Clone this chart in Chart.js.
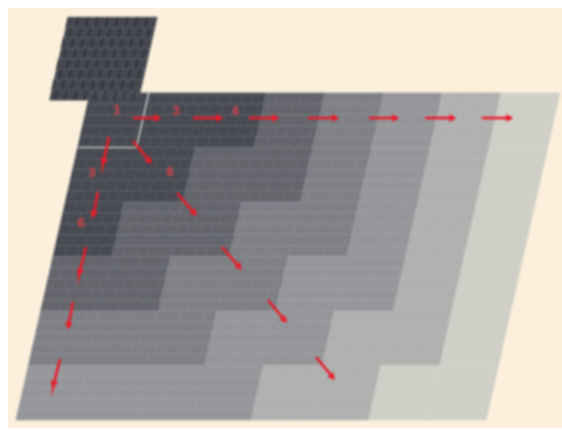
<!DOCTYPE html>
<html>
<head>
<meta charset="utf-8">
<script src="https://cdn.jsdelivr.net/npm/chart.js@4/dist/chart.umd.min.js"></script>
<style>
  html, body { margin:0; padding:0; background:#fff; }
  #wrap { position:relative; width:562px; height:430px; overflow:hidden; }
  #paper { position:absolute; left:8px; top:8px; right:0; bottom:2px; background:#fcf0dc; }
  #chart { position:absolute; left:0; top:0; filter:blur(0.8px); }
</style>
</head>
<body>
<div id="wrap">
  <div id="paper"></div>
  <canvas id="chart" width="562" height="430"></canvas>
</div>
<script>
// wavefront step of every block, rows top to bottom, columns left to right
const row0 = [1,1,1,2,3,4,5,6];
const row1 = [1,1,2,2,3,4,5,6];
const row2 = [1,2,2,3,3,4,5,6];
const row3 = [2,2,3,3,4,4,5,6];
const row4 = [3,3,3,4,4,5,5,6];
const row5 = [4,4,4,4,5,5,6,6];
const stepRows = [row0,row1,row2,row3,row4,row5];
const stepColors = ['#46484f','#484a52','#63656b','#7e8085','#959699','#b0b0af','#cfcfc7'];

// extra block sticking out above the grid, in grid units
const extraCols = [-0.66, 0.85];
const extraRows = [-1.39, 0.13];

// outlined source block
const outlineCols = [0,1,1];
const outlineRows = [1,1,0];

// arrows, picture units
const arrowX1 = [133,193,249,308,369,425,482, 133,177,222,268,316, 109,98,86,73,60];
const arrowY1 = [118,118,118,118,118,118,118, 141,193,247,300,357, 137,192,247,302,359];
const arrowX2 = [160,222,278,338,398,455,512, 151,196,241,286,334, 103,93,79,68,53];
const arrowY2 = [118,118,118,118,118,118,118, 163,215,269,322,379, 164,217,275,328,387];

// red step numbers
const labelText = ['1','3','4','3','6','6'];
const labelX = [117,176,235,92,170,81];
const labelY = [110,111,111,173,172,223];

const colW = 58.75, rowH = 54.5, lean = 0.226, originX = 90, originY = 93;
const gx = (c,r) => originX + c*colW - r*rowH*lean;
const gy = (r) => originY + r*rowH;
const pt = (c,r) => ({x:gx(c,r), y:gy(r)});

function poly(c0,c1,r0,r1,color){
  return {
    data:[pt(c0,r0),pt(c1,r0),pt(c1,r1),pt(c0,r1),pt(c0,r0)],
    showLine:true, fill:'shape', backgroundColor:color,
    borderColor:color, borderWidth:0.8, pointRadius:0, tension:0
  };
}

const datasets = [];
datasets.push(poly(extraCols[0],extraCols[1],extraRows[0],extraRows[1],stepColors[0]));
stepRows.forEach((cols,r)=>{
  cols.forEach((s,c)=> datasets.push(poly(c,c+1,r,r+1,stepColors[s])));
});

// tile joints
const gap = {x:NaN, y:NaN};
const hLines = [], vLines = [], hTop = [], vTop = [];
for(let k=0;k<=30;k++){
  const r = k/5;
  hLines.push(pt(0,r),pt(8,r),gap);
  if(k<30) for(let j=0;j<40;j++){
    const c = (j + (k%2 ? 0.5 : 0))/5;
    vLines.push(pt(c,r),pt(c,r+0.2),gap);
  }
}
for(let k=0;k<8;k++){
  const r = extraRows[0] + k*(extraRows[1]-extraRows[0])/8;
  hTop.push(pt(extraCols[0],r),pt(extraCols[1],r),gap);
  for(let j=0;j<9;j++){
    const c = extraCols[0] + (j + (k%2 ? 0.5 : 0))*(extraCols[1]-extraCols[0])/9;
    vTop.push(pt(c,r),pt(c,r+(extraRows[1]-extraRows[0])/8),gap);
  }
}
const joints = (data,color,w) => ({data,showLine:true,fill:false,borderColor:color,borderWidth:w,pointRadius:0,spanGaps:false});
datasets.push(joints(hTop,'rgba(135,140,150,.38)',1.2));
datasets.push(joints(vTop,'rgba(25,27,35,.5)',1.8));
datasets.push(joints(hLines,'rgba(215,218,225,.17)',1));
datasets.push(joints(vLines,'rgba(215,218,225,.10)',1));

datasets.push({
  data:outlineCols.map((c,i)=>pt(c,outlineRows[i])),
  showLine:true, fill:false, borderColor:'#c4c6c4', borderWidth:1.6, pointRadius:0
});

arrowX1.forEach((x1,i)=>{
  const x2 = arrowX2[i], y1 = arrowY1[i], y2 = arrowY2[i];
  const dx = x2-x1, dy = y2-y1, len = Math.hypot(dx,dy);
  const neck = {x:x2-dx/len*3.5, y:y2-dy/len*3.5};
  datasets.push({
    data:[{x:x1,y:y1},neck,{x:x2,y:y2}],
    showLine:true, fill:false, borderColor:'#ea1c2a', borderWidth:2.6,
    pointRadius:[0,4.5,0], pointStyle:'triangle',
    pointRotation:Math.atan2(dx,-dy)*180/Math.PI,
    pointBackgroundColor:'#ea1c2a', pointBorderWidth:0
  });
});
// Chart.js paints dataset 0 last, so flip to keep the painter's order above
datasets.reverse();

const stepNumbers = {
  id:'stepNumbers',
  afterDatasetsDraw(c){
    const {ctx, scales} = c;
    ctx.save();
    ctx.font = 'bold 13px "Liberation Sans", sans-serif';
    ctx.fillStyle = 'rgba(240,62,72,.85)';
    ctx.textAlign = 'center';
    ctx.textBaseline = 'middle';
    labelText.forEach((t,i)=> ctx.fillText(t, scales.x.getPixelForValue(labelX[i]), scales.y.getPixelForValue(labelY[i])));
    ctx.restore();
  }
};

new Chart(document.getElementById('chart'), {
  type:'scatter',
  data:{ datasets },
  plugins:[stepNumbers],
  options:{
    responsive:false,
    animation:false,
    layout:{ padding:0 },
    plugins:{ legend:{display:false}, tooltip:{enabled:false}, title:{display:false} },
    scales:{
      x:{ type:'linear', min:0, max:562, display:false },
      y:{ type:'linear', min:0, max:430, reverse:true, display:false }
    }
  }
});
</script>
</body>
</html>
